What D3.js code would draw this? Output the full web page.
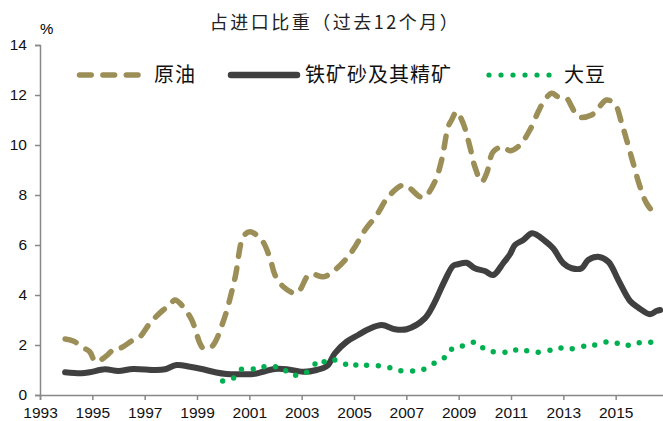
<!DOCTYPE html>
<html>
<head>
<meta charset="utf-8">
<script src="https://cdn.jsdelivr.net/npm/d3@7"></script>
<style>
  body { margin: 0; background: #fff; }
  svg text { font-family: "Liberation Sans", Arial, sans-serif; }
  .cjk { font-family: "Noto Sans CJK SC", sans-serif; }
</style>
</head>
<body>
<div id="chart"></div>
<script>
// data (decimal year, percent)
const oilYears = [1993.96, 1994.27, 1994.66, 1994.9, 1995.13, 1995.5, 1995.87, 1996.1, 1996.5, 1996.82, 1997.2, 1997.71, 1997.9, 1998.16, 1998.41, 1998.8, 1999.11, 1999.24, 1999.56, 2000.0, 2000.45, 2000.77, 2001.02, 2001.47, 2001.79, 2001.98, 2002.3, 2002.74, 2002.93, 2003.3, 2003.83, 2004.15, 2004.72, 2005.04, 2005.42, 2005.87, 2006.31, 2006.88, 2007.14, 2007.52, 2007.71, 2008.09, 2008.35, 2008.6, 2008.73, 2008.92, 2009.17, 2009.43, 2009.62, 2009.88, 2010.07, 2010.32, 2010.7, 2010.96, 2011.34, 2011.72, 2012.04, 2012.23, 2012.55, 2012.8, 2013.12, 2013.32, 2013.57, 2014.08, 2014.33, 2014.65, 2014.97, 2015.23, 2015.42, 2015.67, 2015.93, 2016.18, 2016.44, 2016.6];
const oilValues = [2.24, 2.16, 1.89, 1.73, 1.33, 1.53, 1.87, 1.89, 2.16, 2.33, 2.87, 3.4, 3.53, 3.8, 3.6, 3.0, 2.07, 1.87, 1.93, 2.93, 4.67, 6.33, 6.53, 6.2, 5.47, 4.8, 4.33, 4.07, 4.2, 4.83, 4.73, 4.9, 5.47, 5.93, 6.6, 7.2, 7.93, 8.4, 8.27, 7.93, 7.93, 8.53, 9.4, 10.73, 11.0, 11.33, 10.87, 9.93, 9.13, 8.53, 8.87, 9.73, 9.93, 9.77, 10.0, 10.6, 11.33, 11.7, 12.07, 11.93, 11.87, 11.53, 11.13, 11.2, 11.47, 11.8, 11.64, 10.87, 10.2, 9.27, 8.33, 7.67, 7.33, 7.25];

const oreYears = [1993.96, 1994.59, 1994.9, 1995.48, 1995.99, 1996.56, 1997.39, 1997.78, 1998.22, 1998.73, 1999.18, 1999.69, 2000.13, 2000.7, 2001.15, 2001.53, 2001.98, 2002.43, 2003.06, 2003.57, 2003.98, 2004.27, 2004.72, 2005.16, 2005.55, 2006.06, 2006.56, 2007.01, 2007.71, 2008.03, 2008.48, 2008.79, 2008.98, 2009.3, 2009.62, 2010.0, 2010.32, 2010.7, 2010.96, 2011.15, 2011.47, 2011.81, 2012.3, 2012.61, 2013.0, 2013.32, 2013.7, 2013.95, 2014.33, 2014.72, 2015.1, 2015.55, 2015.87, 2016.31, 2016.56, 2016.7];
const oreValues = [0.91, 0.87, 0.91, 1.03, 0.96, 1.04, 1.0, 1.03, 1.2, 1.13, 1.04, 0.91, 0.84, 0.83, 0.84, 0.93, 1.04, 1.03, 0.93, 1.0, 1.17, 1.67, 2.13, 2.4, 2.63, 2.8, 2.63, 2.63, 3.07, 3.6, 4.6, 5.17, 5.23, 5.29, 5.07, 4.96, 4.8, 5.27, 5.63, 6.0, 6.2, 6.47, 6.16, 5.87, 5.27, 5.07, 5.07, 5.4, 5.53, 5.33, 4.6, 3.76, 3.49, 3.23, 3.36, 3.4];

const soyYears = [1999.98, 2000.4, 2000.7, 2001.15, 2001.56, 2002.0, 2002.39, 2002.77, 2003.19, 2003.51, 2003.86, 2004.27, 2004.68, 2005.07, 2005.48, 2005.93, 2006.37, 2006.79, 2007.24, 2007.67, 2008.06, 2008.45, 2008.73, 2009.14, 2009.56, 2009.92, 2010.32, 2010.77, 2011.18, 2011.6, 2012.04, 2012.49, 2012.91, 2013.34, 2013.78, 2014.2, 2014.63, 2015.06, 2015.48, 2015.9, 2016.34];
const soyValues = [0.56, 0.68, 1.03, 1.04, 1.13, 1.13, 0.97, 0.79, 0.91, 1.24, 1.33, 1.4, 1.23, 1.2, 1.19, 1.17, 1.09, 0.97, 0.96, 1.03, 1.27, 1.49, 1.83, 1.96, 2.11, 1.89, 1.73, 1.71, 1.8, 1.77, 1.71, 1.79, 1.88, 1.85, 1.95, 2.0, 2.12, 2.07, 1.99, 2.09, 2.11];

const xTicks = [1993, 1995, 1997, 1999, 2001, 2003, 2005, 2007, 2009, 2011, 2013, 2015];
const yTicks = [0, 2, 4, 6, 8, 10, 12, 14];
const seriesNames = ["原油", "铁矿砂及其精矿", "大豆"];

const colors = { oil: "#9c8e57", ore: "#404040", soy: "#00b050", axis: "#888" };

// dimensions
const width = 663,
    height = 421;

const svg = d3.select("#chart")
    .append("svg")
    .attr("width", width)
    .attr("height", height);

// scales
const x = d3.scaleLinear().domain([1993, 2017]).range([40, 668]);
const y = d3.scaleLinear().domain([0, 14]).range([395, 45]);

const zip = (xs, ys) => xs.map((d, i) => [d, ys[i]]);

// title
svg.append("text")
    .attr("class", "cjk")
    .attr("x", 335)
    .attr("y", 29)
    .attr("text-anchor", "middle")
    .style("font-size", "18px")
    .style("letter-spacing", "2.5px")
    .attr("fill", "#222")
    .text("占进口比重（过去12个月）");

svg.append("text")
    .attr("x", 40)
    .attr("y", 34)
    .style("font-size", "15px")
    .text("%");

// axes
const yAxis = svg.append("g")
    .attr("transform", `translate(${x(1993)},0)`)
    .call(d3.axisLeft(y).tickValues(yTicks).tickSize(5).tickPadding(8));

const xAxis = svg.append("g")
    .attr("transform", `translate(0,${y(0)})`)
    .call(d3.axisBottom(x).tickValues(xTicks).tickFormat(d3.format("d")).tickSize(5).tickPadding(7));

[xAxis, yAxis].forEach(a => {
    a.select(".domain").attr("stroke", colors.axis).attr("stroke-width", 1.5);
    a.selectAll(".tick line").attr("stroke", colors.axis).attr("stroke-width", 1.5);
    a.selectAll("text")
        .attr("fill", "#111")
        .style("font-size", "15.5px")
        .style("font-family", "'Liberation Sans', Arial, sans-serif");
});

// lines
const line = d3.line()
    .x(d => x(d[0]))
    .y(d => y(d[1]))
    .curve(d3.curveCatmullRom.alpha(0.5));

svg.append("path")
    .datum(zip(oilYears, oilValues))
    .attr("d", line)
    .attr("fill", "none")
    .attr("stroke", colors.oil)
    .attr("stroke-width", 5.5)
    .attr("stroke-linecap", "round")
    .attr("stroke-dasharray", "11.7,11.7");

svg.append("path")
    .datum(zip(oreYears, oreValues))
    .attr("d", line)
    .attr("fill", "none")
    .attr("stroke", colors.ore)
    .attr("stroke-width", 6)
    .attr("stroke-linecap", "round")
    .attr("stroke-linejoin", "round");

svg.selectAll(".soy")
    .data(zip(soyYears, soyValues))
    .enter()
    .append("circle")
    .attr("class", "soy")
    .attr("cx", d => x(d[0]))
    .attr("cy", d => y(d[1]))
    .attr("r", 2.7)
    .attr("fill", colors.soy);

// legend
const legendY = 75;
const legend = svg.append("g");

legend.append("line")
    .attr("x1", 79.5).attr("x2", 138)
    .attr("y1", legendY).attr("y2", legendY)
    .attr("stroke", colors.oil)
    .attr("stroke-width", 5.5)
    .attr("stroke-linecap", "round")
    .attr("stroke-dasharray", "11.7,11.7");

legend.append("line")
    .attr("x1", 231).attr("x2", 297)
    .attr("y1", legendY).attr("y2", legendY)
    .attr("stroke", colors.ore)
    .attr("stroke-width", 6.5)
    .attr("stroke-linecap", "round");

legend.selectAll(".ldot")
    .data(d3.range(6))
    .enter()
    .append("circle")
    .attr("class", "ldot")
    .attr("cx", i => 489 + i * 12)
    .attr("cy", legendY)
    .attr("r", 2.6)
    .attr("fill", colors.soy);

legend.selectAll(".ltext")
    .data(seriesNames)
    .enter()
    .append("text")
    .attr("class", "cjk ltext")
    .attr("x", (d, i) => [154, 305, 564][i])
    .attr("y", legendY + 7)
    .style("font-size", "20px")
    .style("letter-spacing", "1px")
    .attr("fill", "#111")
    .text(d => d);
</script>
</body>
</html>
